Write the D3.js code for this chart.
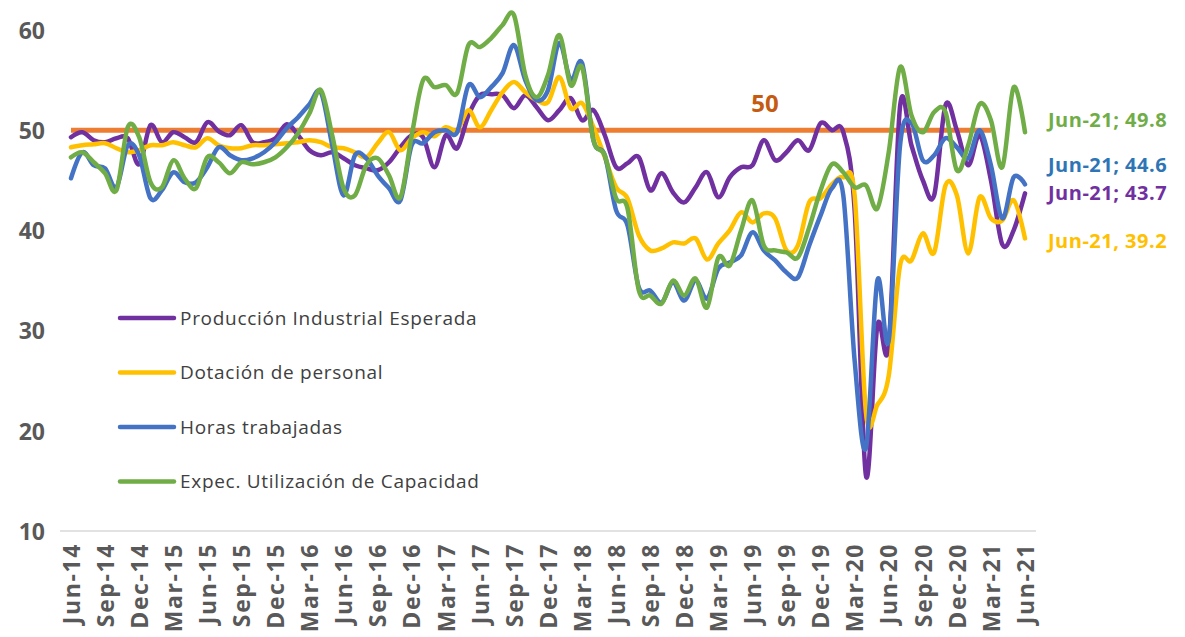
<!DOCTYPE html>
<html>
<head>
<meta charset="utf-8">
<script src="https://d3js.org/d3.v7.min.js"></script>
<style>
  body { margin: 0; background: #fff; }
  svg { display: block; font-family: "Open Sans", "DejaVu Sans", sans-serif; }
</style>
</head>
<body>
<div id="chart"></div>
<script>
(function(){
  'use strict';

  // months Jun-14 .. Jun-21
  var months = [
    "Jun-14","Jul-14","Aug-14","Sep-14","Oct-14","Nov-14","Dec-14",
    "Jan-15","Feb-15","Mar-15","Apr-15","May-15","Jun-15","Jul-15","Aug-15","Sep-15","Oct-15","Nov-15","Dec-15",
    "Jan-16","Feb-16","Mar-16","Apr-16","May-16","Jun-16","Jul-16","Aug-16","Sep-16","Oct-16","Nov-16","Dec-16",
    "Jan-17","Feb-17","Mar-17","Apr-17","May-17","Jun-17","Jul-17","Aug-17","Sep-17","Oct-17","Nov-17","Dec-17",
    "Jan-18","Feb-18","Mar-18","Apr-18","May-18","Jun-18","Jul-18","Aug-18","Sep-18","Oct-18","Nov-18","Dec-18",
    "Jan-19","Feb-19","Mar-19","Apr-19","May-19","Jun-19","Jul-19","Aug-19","Sep-19","Oct-19","Nov-19","Dec-19",
    "Jan-20","Feb-20","Mar-20","Apr-20","May-20","Jun-20","Jul-20","Aug-20","Sep-20","Oct-20","Nov-20","Dec-20",
    "Jan-21","Feb-21","Mar-21","Apr-21","May-21","Jun-21"
  ];

  var tickLabels = [
    "Jun-14","Sep-14","Dec-14","Mar-15","Jun-15","Sep-15","Dec-15","Mar-16","Jun-16","Sep-16",
    "Dec-16","Mar-17","Jun-17","Sep-17","Dec-17","Mar-18","Jun-18","Sep-18","Dec-18","Mar-19",
    "Jun-19","Sep-19","Dec-19","Mar-20","Jun-20","Sep-20","Dec-20","Mar-21","Jun-21"
  ];

  var yTicks = [10, 20, 30, 40, 50, 60];

  var produccion = [
    49.3,49.8,49.0,48.8,49.2,49.2,46.6,50.5,48.8,49.8,49.3,48.8,50.8,49.9,49.5,50.5,48.8,48.8,49.2,50.6,
    49.5,48.0,47.5,47.8,47.2,46.5,46.2,46.0,46.8,48.3,49.5,49.3,46.3,49.5,48.2,51.5,53.5,53.6,53.5,52.2,
    53.5,52.3,51.0,52.0,53.2,51.0,52.0,49.5,46.3,46.7,47.3,44.0,45.7,43.8,42.8,44.3,45.8,43.3,45.3,46.3,
    46.5,49.0,47.0,47.8,49.0,48.0,50.7,50.0,49.8,42.0,15.5,30.5,28.5,52.4,48.5,45.0,43.5,52.5,50.0,46.5,
    49.5,45.0,38.6,40.0,43.7
  ];

  var dotacion = [
    48.3,48.5,48.6,48.7,48.2,47.8,48.0,48.5,48.5,48.8,48.5,48.3,49.2,48.5,48.2,48.2,48.5,48.5,48.6,48.7,
    48.8,49.0,48.8,48.3,48.2,47.8,47.3,48.7,49.8,48.0,49.2,49.8,49.4,50.3,50.0,52.0,50.3,52.0,53.8,54.8,
    53.8,53.0,52.8,55.3,52.2,52.7,50.3,47.3,44.3,43.2,39.5,38.0,38.2,38.8,38.7,39.2,37.1,38.7,40.0,41.8,
    40.8,41.7,41.2,38.0,38.5,42.8,43.2,44.6,45.3,43.5,21.8,22.6,25.5,36.5,37.0,39.7,37.8,44.5,43.5,37.7,
    43.3,41.2,41.0,43.0,39.2
  ];

  var horas = [
    45.2,47.8,46.5,46.2,44.3,48.5,47.5,43.2,44.0,45.8,44.8,44.8,46.3,48.3,47.5,47.0,47.2,47.8,48.8,50.2,
    51.3,52.6,53.8,48.5,43.5,47.5,47.2,45.5,44.2,43.0,48.5,48.7,49.8,50.0,49.8,54.5,53.3,54.3,55.7,58.5,
    55.0,53.0,54.0,58.7,55.0,56.7,49.0,47.5,42.0,40.5,34.3,34.0,32.8,34.8,33.0,35.0,33.2,36.2,36.8,37.5,
    39.8,38.0,37.0,35.8,35.3,38.5,41.5,44.2,43.5,27.0,18.3,35.0,29.0,48.5,50.7,47.0,47.5,49.2,48.3,47.2,
    50.0,46.5,41.2,45.3,44.6
  ];

  var capacidad = [
    47.3,47.8,46.8,45.7,44.0,50.3,49.3,44.8,44.3,47.0,45.2,44.2,47.3,46.8,45.7,46.8,46.6,46.8,47.3,48.3,
    49.7,51.7,54.0,49.5,44.2,43.5,46.5,47.2,45.5,43.3,49.5,55.0,54.3,54.5,53.7,58.5,58.3,59.2,60.5,61.5,
    55.5,53.3,55.5,59.5,54.5,56.3,49.0,47.5,43.2,42.2,34.0,33.5,32.7,35.0,33.5,35.2,32.3,37.3,36.5,40.0,
    43.0,38.5,38.0,37.8,37.3,40.3,44.0,46.6,45.8,44.3,44.5,42.2,47.8,56.3,51.5,49.8,51.8,51.8,46.0,48.5,
    52.6,51.0,46.3,54.3,49.8
  ];

  // threshold line, drawn from Jun-14 to Mar-21
  var umbral = 50;
  var umbralFin = "Mar-21";

  var series = [
    {name: "Producción Industrial Esperada", values: produccion, color: "#7030a0", last: "Jun-21; 43.7", lastColor: "#7030a0", labelY: 193},
    {name: "Dotación de personal",          values: dotacion,   color: "#ffc000", last: "Jun-21, 39.2", lastColor: "#ffc000", labelY: 241},
    {name: "Horas trabajadas",              values: horas,      color: "#4472c4", last: "Jun-21; 44.6", lastColor: "#2e75b6", labelY: 165},
    {name: "Expec. Utilización de Capacidad", values: capacidad, color: "#70ad47", last: "Jun-21; 49.8", lastColor: "#70ad47", labelY: 120}
  ];

  var width = 1185, height = 637;

  var svg = d3.select("#chart")
    .append("svg")
    .attr("width", width)
    .attr("height", height);

  var x = d3.scalePoint()
    .domain(months)
    .range([71, 1025]);

  var y = d3.scaleLinear()
    .domain([10, 60])
    .range([531, 30]);

  // base gridline
  svg.append("line")
    .attr("x1", 60).attr("x2", 1036)
    .attr("y1", y(10)).attr("y2", y(10))
    .attr("stroke", "#d9d9d9")
    .attr("stroke-width", 1.3);

  // y axis labels
  var yAxis = d3.axisLeft(y).tickValues(yTicks).tickSize(0).tickPadding(0);
  var gy = svg.append("g")
    .attr("transform", "translate(45,0)")
    .call(yAxis);
  gy.select(".domain").remove();
  gy.selectAll("text")
    .attr("fill", "#595959")
    .attr("font-size", 23)
    .attr("font-weight", "bold")
    .attr("dy", "0.36em")
    .style("font-family", "'Open Sans', sans-serif");

  // x axis labels
  var xAxis = d3.axisBottom(x).tickValues(tickLabels).tickSize(0).tickPadding(0);
  var gx = svg.append("g")
    .attr("transform", "translate(0," + y(10) + ")")
    .call(xAxis);
  gx.select(".domain").remove();
  gx.selectAll("text")
    .attr("fill", "#595959")
    .attr("font-size", 23)
    .attr("font-weight", "bold")
    .attr("letter-spacing", 1.6)
    .attr("text-anchor", "end")
    .attr("transform", "rotate(-90)")
    .attr("x", -12)
    .attr("y", 0)
    .attr("dy", "0.36em")
    .style("font-family", "'Open Sans', sans-serif");

  // 50 line
  svg.append("line")
    .attr("x1", x(months[0])).attr("x2", x(umbralFin))
    .attr("y1", y(umbral)).attr("y2", y(umbral))
    .attr("stroke", "#ed7d31")
    .attr("stroke-width", 5);

  svg.append("text")
    .attr("x", 765).attr("y", y(umbral) - 27)
    .attr("text-anchor", "middle")
    .attr("dy", "0.36em")
    .attr("fill", "#c55a11")
    .attr("font-size", 24)
    .attr("font-weight", "bold")
    .text(String(umbral));

  var line = d3.line()
    .x(function(d, i){ return x(months[i]); })
    .y(function(d){ return y(d); })
    .curve(d3.curveCardinal.tension(0));

  svg.selectAll("path.serie")
    .data(series)
    .enter()
    .append("path")
    .attr("class", "serie")
    .attr("fill", "none")
    .attr("stroke", function(d){ return d.color; })
    .attr("stroke-width", 4.5)
    .attr("stroke-linecap", "round")
    .attr("stroke-linejoin", "round")
    .attr("d", function(d){ return line(d.values); });

  // end labels
  svg.selectAll("text.last")
    .data(series)
    .enter()
    .append("text")
    .attr("class", "last")
    .attr("x", 1048)
    .attr("y", function(d){ return d.labelY; })
    .attr("dy", "0.36em")
    .attr("fill", function(d){ return d.lastColor; })
    .attr("font-size", 20)
    .attr("font-weight", "bold")
    .attr("letter-spacing", 0.5)
    .text(function(d){ return d.last; });

  // legend
  var legend = svg.selectAll("g.legend")
    .data(series)
    .enter()
    .append("g")
    .attr("class", "legend")
    .attr("transform", function(d, i){ return "translate(120," + (318 + i * 54.5) + ")"; });

  legend.append("line")
    .attr("x1", 0).attr("x2", 54)
    .attr("stroke", function(d){ return d.color; })
    .attr("stroke-width", 4.5)
    .attr("stroke-linecap", "round");

  legend.append("text")
    .attr("x", 60)
    .attr("dy", "0.36em")
    .attr("fill", "#404040")
    .attr("font-size", 19)
    .attr("letter-spacing", 0.7)
    .text(function(d){ return d.name; });

})();
</script>
</body>
</html>
